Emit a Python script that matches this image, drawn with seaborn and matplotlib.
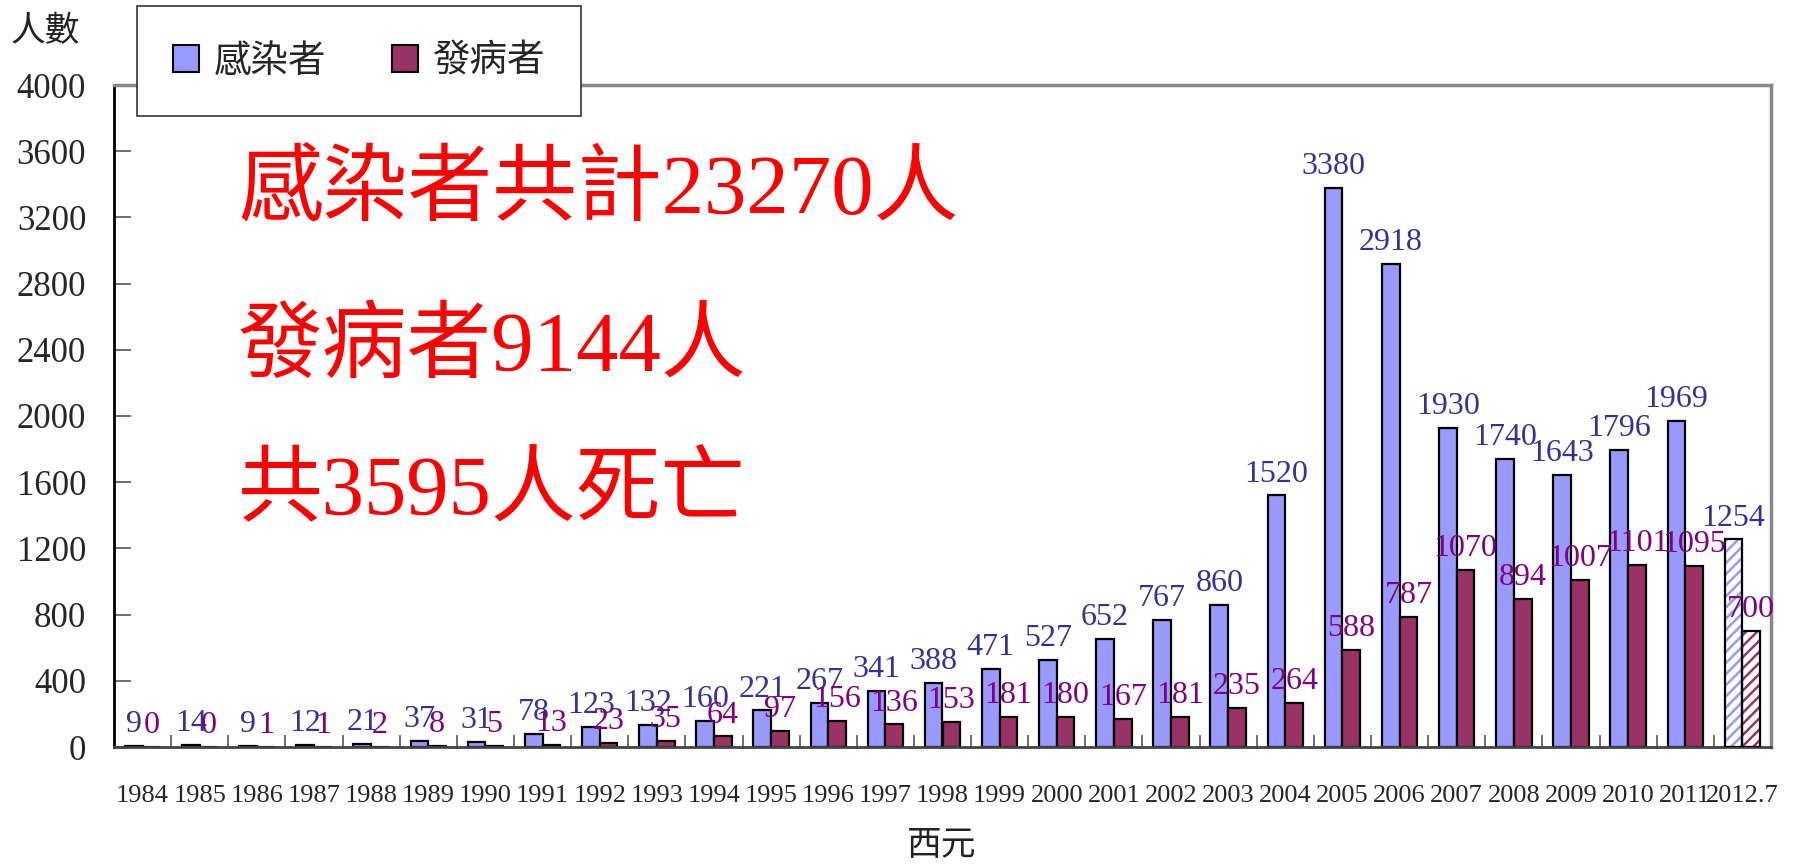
import matplotlib
matplotlib.use("Agg")
import matplotlib.pyplot as plt
import seaborn as sns
import pandas as pd
import numpy as np

# --- data ---
years = ['1984', '1985', '1986', '1987', '1988', '1989', '1990', '1991', '1992', '1993',
         '1994', '1995', '1996', '1997', '1998', '1999', '2000', '2001', '2002', '2003',
         '2004', '2005', '2006', '2007', '2008', '2009', '2010', '2011', '2012.7']
infected = [9, 14, 9, 12, 21, 37, 31, 78, 123, 132,
            160, 221, 267, 341, 388, 471, 527, 652, 767, 860,
            1520, 3380, 2918, 1930, 1740, 1643, 1796, 1969, 1254]
onset = [0, 0, 1, 1, 2, 8, 5, 13, 23, 35,
         64, 97, 156, 136, 153, 181, 180, 167, 181, 235,
         264, 588, 787, 1070, 894, 1007, 1101, 1095, 700]
series_names = ['感染者', '發病者']
summary_lines = ['感染者共計23270人', '發病者9144人', '共3595人死亡']
y_ticks = list(range(0, 4001, 400))

bar_colors = ['#9999FF', '#993366']
label_colors = ['#333399', '#800080']

df = pd.DataFrame({
    'year': years * 2,
    'count': infected + onset,
    'type': [series_names[0]] * len(years) + [series_names[1]] * len(years),
})

sns.set_theme(style="white")
plt.rcParams['font.family'] = ['Liberation Serif', 'Noto Sans CJK TC']
plt.rcParams['hatch.linewidth'] = 1.8

W, H = 1793, 865
fig = plt.figure(figsize=(W / 100, H / 100), dpi=100)
ax = fig.add_axes([114 / W, 1 - 747 / H, (1771 - 114) / W, (747 - 85) / H])

sns.barplot(data=df, x='year', y='count', hue='type', palette=bar_colors,
            width=0.62, edgecolor='black', linewidth=1.6, saturation=1,
            ax=ax, legend=False)

ax.set_ylim(0, 4000)
ax.set_xlim(-0.5, len(years) - 0.5)
ax.set_yticks(y_ticks)
ax.set_yticklabels([str(t) for t in y_ticks], fontsize=25)
ax.tick_params(axis='y', direction='in', length=12, width=1.2, color='#555555',
               pad=20, left=True)

# year labels at centers, tick marks between categories
ax.set_xticks(range(len(years)))
ax.set_xticklabels(years, fontsize=19)
ax.tick_params(axis='x', which='major', length=0, pad=27)
ax.set_xticks(np.arange(0.5, len(years) - 1, 1.0), minor=True)
ax.tick_params(axis='x', which='minor', direction='in', length=9, width=1.2,
               color='#555555', bottom=True)
ax.set_xlabel('')
ax.set_ylabel('')

ax.spines['left'].set_color('black')
ax.spines['left'].set_linewidth(2)
ax.spines['bottom'].set_color('#444444')
ax.spines['bottom'].set_linewidth(2)
for side in ['top', 'right']:
    ax.spines[side].set_color('#888888')
    ax.spines[side].set_linewidth(2.5)

# value labels above bars
for container, vals, col in zip(ax.containers, [infected, onset], label_colors):
    for patch, v in zip(container.patches, vals):
        ax.annotate(str(v), (patch.get_x() + patch.get_width() / 2, patch.get_height()),
                    xytext=(0, 10), textcoords='offset points', ha='center',
                    va='baseline', fontsize=23, color=col, zorder=5)

# last (partial year) bars: striped fill with black outline on top
for container, col in zip(ax.containers, bar_colors):
    p = container.patches[-1]
    p.set_facecolor('white')
    p.set_hatch('///')
    p.set_edgecolor(col)
    p.set_linewidth(0)
    ax.bar(p.get_x() + p.get_width() / 2, p.get_height(), width=p.get_width(),
           fill=False, edgecolor='black', linewidth=1.6, zorder=3)

# legend
handles = [plt.Rectangle((0, 0), 1, 1, facecolor=c, edgecolor='black', linewidth=1.5)
           for c in bar_colors]
leg = ax.legend(handles, series_names, loc='upper left',
                bbox_to_anchor=(137 / W, 1 - 6 / H), bbox_transform=fig.transFigure,
                ncol=2, frameon=True, fancybox=False, framealpha=1,
                prop={'family': ['Noto Sans CJK TC'], 'size': 27},
                handlelength=0.7, handleheight=0.7, handletextpad=0.4,
                columnspacing=1.75, borderpad=0.95, borderaxespad=0)
leg.get_frame().set_edgecolor('#333333')
leg.get_frame().set_linewidth(1.2)
leg.set_zorder(10)

# red summary text
line_y = [192, 350, 493]
for line, yy in zip(summary_lines, line_y):
    fig.text(238 / W, 1 - yy / H, line, color='#FF0000',
             fontsize=61, va='center', ha='left',
             family=['Liberation Serif', 'Noto Sans CJK TC'])

fig.text(45 / W, 1 - 32 / H, '人數', fontsize=25, ha='center', va='center',
         family=['Noto Sans CJK TC'], color='#222222')
fig.text(942 / W, 1 - 846 / H, '西元', fontsize=25, ha='center', va='center',
         family=['Noto Sans CJK TC'], color='#222222')

fig.savefig('out.png', dpi=100)
